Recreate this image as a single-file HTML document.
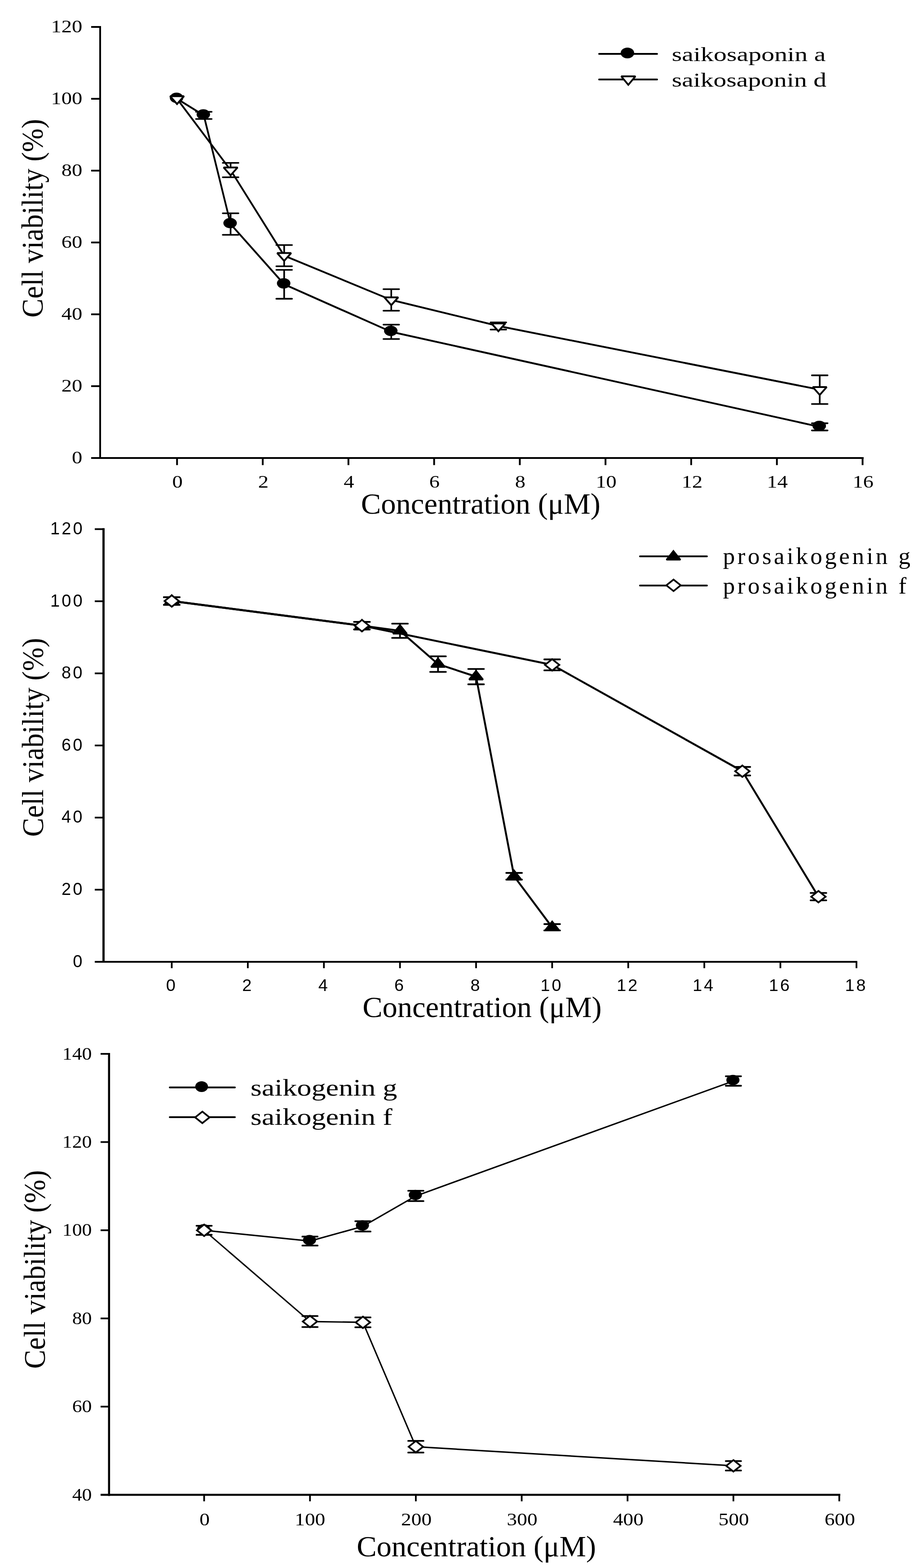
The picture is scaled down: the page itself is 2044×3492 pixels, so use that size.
<!DOCTYPE html>
<html><head><meta charset="utf-8"><title>Cell viability charts</title>
<style>html,body{margin:0;padding:0;background:#fff;}svg{display:block;}</style></head>
<body>
<svg width="2044" height="3492" viewBox="0 0 2044 3492">
<rect width="2044" height="3492" fill="#fff"/>
<g stroke="#000" fill="none">
<line x1="223.00" y1="58.00" x2="223.00" y2="1022.00" stroke-width="4.00" stroke-linecap="butt"/>
<line x1="203.00" y1="1020.00" x2="1923.00" y2="1020.00" stroke-width="4.00" stroke-linecap="butt"/>
<line x1="203.00" y1="1020.00" x2="223.00" y2="1020.00" stroke-width="4.00" stroke-linecap="butt"/>
<line x1="203.00" y1="860.00" x2="223.00" y2="860.00" stroke-width="4.00" stroke-linecap="butt"/>
<line x1="203.00" y1="700.00" x2="223.00" y2="700.00" stroke-width="4.00" stroke-linecap="butt"/>
<line x1="203.00" y1="540.00" x2="223.00" y2="540.00" stroke-width="4.00" stroke-linecap="butt"/>
<line x1="203.00" y1="380.00" x2="223.00" y2="380.00" stroke-width="4.00" stroke-linecap="butt"/>
<line x1="203.00" y1="220.00" x2="223.00" y2="220.00" stroke-width="4.00" stroke-linecap="butt"/>
<line x1="203.00" y1="60.00" x2="223.00" y2="60.00" stroke-width="4.00" stroke-linecap="butt"/>
<line x1="394.20" y1="1020.00" x2="394.20" y2="1035.80" stroke-width="4.00" stroke-linecap="butt"/>
<line x1="585.00" y1="1020.00" x2="585.00" y2="1035.80" stroke-width="4.00" stroke-linecap="butt"/>
<line x1="775.80" y1="1020.00" x2="775.80" y2="1035.80" stroke-width="4.00" stroke-linecap="butt"/>
<line x1="966.60" y1="1020.00" x2="966.60" y2="1035.80" stroke-width="4.00" stroke-linecap="butt"/>
<line x1="1157.40" y1="1020.00" x2="1157.40" y2="1035.80" stroke-width="4.00" stroke-linecap="butt"/>
<line x1="1348.20" y1="1020.00" x2="1348.20" y2="1035.80" stroke-width="4.00" stroke-linecap="butt"/>
<line x1="1539.00" y1="1020.00" x2="1539.00" y2="1035.80" stroke-width="4.00" stroke-linecap="butt"/>
<line x1="1729.80" y1="1020.00" x2="1729.80" y2="1035.80" stroke-width="4.00" stroke-linecap="butt"/>
<line x1="1920.60" y1="1020.00" x2="1920.60" y2="1035.80" stroke-width="4.00" stroke-linecap="butt"/>
<polyline fill="none" stroke-width="4.00" stroke-linejoin="round" points="394.20,220.00 453.82,257.00 513.45,499.00 632.70,633.20 871.20,739.00 1825.20,950.60"/>
<line x1="453.82" y1="249.00" x2="453.82" y2="265.00" stroke-width="3.70" stroke-linecap="butt"/>
<line x1="436.32" y1="249.00" x2="471.32" y2="249.00" stroke-width="3.60" stroke-linecap="round"/>
<line x1="436.32" y1="265.00" x2="471.32" y2="265.00" stroke-width="3.60" stroke-linecap="round"/>
<line x1="513.45" y1="475.00" x2="513.45" y2="523.00" stroke-width="3.70" stroke-linecap="butt"/>
<line x1="495.95" y1="475.00" x2="530.95" y2="475.00" stroke-width="3.60" stroke-linecap="round"/>
<line x1="495.95" y1="523.00" x2="530.95" y2="523.00" stroke-width="3.60" stroke-linecap="round"/>
<line x1="632.70" y1="601.00" x2="632.70" y2="665.40" stroke-width="3.70" stroke-linecap="butt"/>
<line x1="615.20" y1="601.00" x2="650.20" y2="601.00" stroke-width="3.60" stroke-linecap="round"/>
<line x1="615.20" y1="665.40" x2="650.20" y2="665.40" stroke-width="3.60" stroke-linecap="round"/>
<line x1="871.20" y1="723.00" x2="871.20" y2="755.00" stroke-width="3.70" stroke-linecap="butt"/>
<line x1="853.70" y1="723.00" x2="888.70" y2="723.00" stroke-width="3.60" stroke-linecap="round"/>
<line x1="853.70" y1="755.00" x2="888.70" y2="755.00" stroke-width="3.60" stroke-linecap="round"/>
<line x1="1825.20" y1="942.60" x2="1825.20" y2="958.60" stroke-width="3.70" stroke-linecap="butt"/>
<line x1="1807.70" y1="942.60" x2="1842.70" y2="942.60" stroke-width="3.60" stroke-linecap="round"/>
<line x1="1807.70" y1="958.60" x2="1842.70" y2="958.60" stroke-width="3.60" stroke-linecap="round"/>
<ellipse cx="393.10" cy="217.80" rx="15.00" ry="11.50" fill="#000" stroke="none"/>
<ellipse cx="452.72" cy="254.80" rx="15.00" ry="11.50" fill="#000" stroke="none"/>
<ellipse cx="512.35" cy="496.80" rx="15.00" ry="11.50" fill="#000" stroke="none"/>
<ellipse cx="631.60" cy="631.00" rx="15.00" ry="11.50" fill="#000" stroke="none"/>
<ellipse cx="870.10" cy="736.80" rx="15.00" ry="11.50" fill="#000" stroke="none"/>
<ellipse cx="1824.10" cy="948.40" rx="15.00" ry="11.50" fill="#000" stroke="none"/>
<polyline fill="none" stroke-width="4.00" stroke-linejoin="round" points="394.20,220.00 513.45,378.80 632.70,569.40 871.20,668.00 1109.70,726.00 1825.20,867.80"/>
<line x1="513.45" y1="362.80" x2="513.45" y2="394.80" stroke-width="3.70" stroke-linecap="butt"/>
<line x1="495.95" y1="362.80" x2="530.95" y2="362.80" stroke-width="3.60" stroke-linecap="round"/>
<line x1="495.95" y1="394.80" x2="530.95" y2="394.80" stroke-width="3.60" stroke-linecap="round"/>
<line x1="632.70" y1="545.80" x2="632.70" y2="593.00" stroke-width="3.70" stroke-linecap="butt"/>
<line x1="615.20" y1="545.80" x2="650.20" y2="545.80" stroke-width="3.60" stroke-linecap="round"/>
<line x1="615.20" y1="593.00" x2="650.20" y2="593.00" stroke-width="3.60" stroke-linecap="round"/>
<line x1="871.20" y1="644.00" x2="871.20" y2="692.00" stroke-width="3.70" stroke-linecap="butt"/>
<line x1="853.70" y1="644.00" x2="888.70" y2="644.00" stroke-width="3.60" stroke-linecap="round"/>
<line x1="853.70" y1="692.00" x2="888.70" y2="692.00" stroke-width="3.60" stroke-linecap="round"/>
<line x1="1109.70" y1="718.00" x2="1109.70" y2="734.00" stroke-width="3.70" stroke-linecap="butt"/>
<line x1="1092.20" y1="718.00" x2="1127.20" y2="718.00" stroke-width="3.60" stroke-linecap="round"/>
<line x1="1092.20" y1="734.00" x2="1127.20" y2="734.00" stroke-width="3.60" stroke-linecap="round"/>
<line x1="1825.20" y1="835.90" x2="1825.20" y2="899.70" stroke-width="3.70" stroke-linecap="butt"/>
<line x1="1807.70" y1="835.90" x2="1842.70" y2="835.90" stroke-width="3.60" stroke-linecap="round"/>
<line x1="1807.70" y1="899.70" x2="1842.70" y2="899.70" stroke-width="3.60" stroke-linecap="round"/>
<polygon fill="#fff" stroke-width="4.00" stroke-linejoin="miter" stroke-miterlimit="2" points="378.70,214.17 409.70,214.17 394.20,231.67"/>
<polygon fill="#fff" stroke-width="4.00" stroke-linejoin="miter" stroke-miterlimit="2" points="497.95,372.97 528.95,372.97 513.45,390.47"/>
<polygon fill="#fff" stroke-width="4.00" stroke-linejoin="miter" stroke-miterlimit="2" points="617.20,563.57 648.20,563.57 632.70,581.07"/>
<polygon fill="#fff" stroke-width="4.00" stroke-linejoin="miter" stroke-miterlimit="2" points="855.70,662.17 886.70,662.17 871.20,679.67"/>
<polygon fill="#fff" stroke-width="4.00" stroke-linejoin="miter" stroke-miterlimit="2" points="1094.20,720.17 1125.20,720.17 1109.70,737.67"/>
<polygon fill="#fff" stroke-width="4.00" stroke-linejoin="miter" stroke-miterlimit="2" points="1809.70,861.97 1840.70,861.97 1825.20,879.47"/>
<line x1="1334.00" y1="120.00" x2="1463.00" y2="120.00" stroke-width="4.00" stroke-linecap="round"/>
<ellipse cx="1397.00" cy="118.00" rx="15.00" ry="12.00" fill="#000" stroke="none"/>
<line x1="1334.00" y1="177.00" x2="1463.00" y2="177.00" stroke-width="4.00" stroke-linecap="round"/>
<polygon fill="#fff" stroke-width="4.00" stroke-linejoin="miter" stroke-miterlimit="2" points="1383.25,169.97 1414.75,169.97 1399.00,188.97"/>
<line x1="230.50" y1="1176.30" x2="230.50" y2="2144.00" stroke-width="4.90" stroke-linecap="butt"/>
<line x1="211.00" y1="2142.00" x2="1908.80" y2="2142.00" stroke-width="4.00" stroke-linecap="butt"/>
<line x1="211.00" y1="2142.00" x2="230.50" y2="2142.00" stroke-width="3.80" stroke-linecap="butt"/>
<line x1="211.00" y1="1981.40" x2="230.50" y2="1981.40" stroke-width="3.80" stroke-linecap="butt"/>
<line x1="211.00" y1="1820.80" x2="230.50" y2="1820.80" stroke-width="3.80" stroke-linecap="butt"/>
<line x1="211.00" y1="1660.20" x2="230.50" y2="1660.20" stroke-width="3.80" stroke-linecap="butt"/>
<line x1="211.00" y1="1499.60" x2="230.50" y2="1499.60" stroke-width="3.80" stroke-linecap="butt"/>
<line x1="211.00" y1="1339.00" x2="230.50" y2="1339.00" stroke-width="3.80" stroke-linecap="butt"/>
<line x1="211.00" y1="1178.40" x2="230.50" y2="1178.40" stroke-width="3.80" stroke-linecap="butt"/>
<line x1="382.40" y1="2142.00" x2="382.40" y2="2156.20" stroke-width="3.80" stroke-linecap="butt"/>
<line x1="551.80" y1="2142.00" x2="551.80" y2="2156.20" stroke-width="3.80" stroke-linecap="butt"/>
<line x1="721.20" y1="2142.00" x2="721.20" y2="2156.20" stroke-width="3.80" stroke-linecap="butt"/>
<line x1="890.60" y1="2142.00" x2="890.60" y2="2156.20" stroke-width="3.80" stroke-linecap="butt"/>
<line x1="1060.00" y1="2142.00" x2="1060.00" y2="2156.20" stroke-width="3.80" stroke-linecap="butt"/>
<line x1="1229.40" y1="2142.00" x2="1229.40" y2="2156.20" stroke-width="3.80" stroke-linecap="butt"/>
<line x1="1398.80" y1="2142.00" x2="1398.80" y2="2156.20" stroke-width="3.80" stroke-linecap="butt"/>
<line x1="1568.20" y1="2142.00" x2="1568.20" y2="2156.20" stroke-width="3.80" stroke-linecap="butt"/>
<line x1="1737.60" y1="2142.00" x2="1737.60" y2="2156.20" stroke-width="3.80" stroke-linecap="butt"/>
<line x1="1907.00" y1="2142.00" x2="1907.00" y2="2156.20" stroke-width="3.80" stroke-linecap="butt"/>
<polyline fill="none" stroke-width="4.30" stroke-linejoin="round" points="382.40,1338.50 805.90,1393.40 890.60,1404.80 975.30,1479.00 1060.00,1506.90 1144.70,1951.50 1229.40,2065.10"/>
<line x1="382.40" y1="1330.00" x2="382.40" y2="1347.00" stroke-width="3.80" stroke-linecap="butt"/>
<line x1="364.90" y1="1330.00" x2="399.90" y2="1330.00" stroke-width="3.80" stroke-linecap="round"/>
<line x1="364.90" y1="1347.00" x2="399.90" y2="1347.00" stroke-width="3.80" stroke-linecap="round"/>
<line x1="805.90" y1="1385.00" x2="805.90" y2="1401.80" stroke-width="3.80" stroke-linecap="butt"/>
<line x1="788.40" y1="1385.00" x2="823.40" y2="1385.00" stroke-width="3.80" stroke-linecap="round"/>
<line x1="788.40" y1="1401.80" x2="823.40" y2="1401.80" stroke-width="3.80" stroke-linecap="round"/>
<line x1="890.60" y1="1388.90" x2="890.60" y2="1420.70" stroke-width="3.80" stroke-linecap="butt"/>
<line x1="873.10" y1="1388.90" x2="908.10" y2="1388.90" stroke-width="3.80" stroke-linecap="round"/>
<line x1="873.10" y1="1420.70" x2="908.10" y2="1420.70" stroke-width="3.80" stroke-linecap="round"/>
<line x1="975.30" y1="1461.70" x2="975.30" y2="1496.30" stroke-width="3.80" stroke-linecap="butt"/>
<line x1="957.80" y1="1461.70" x2="992.80" y2="1461.70" stroke-width="3.80" stroke-linecap="round"/>
<line x1="957.80" y1="1496.30" x2="992.80" y2="1496.30" stroke-width="3.80" stroke-linecap="round"/>
<line x1="1060.00" y1="1489.80" x2="1060.00" y2="1524.00" stroke-width="3.80" stroke-linecap="butt"/>
<line x1="1042.50" y1="1489.80" x2="1077.50" y2="1489.80" stroke-width="3.80" stroke-linecap="round"/>
<line x1="1042.50" y1="1524.00" x2="1077.50" y2="1524.00" stroke-width="3.80" stroke-linecap="round"/>
<line x1="1144.70" y1="1944.00" x2="1144.70" y2="1959.00" stroke-width="3.80" stroke-linecap="butt"/>
<line x1="1127.20" y1="1944.00" x2="1162.20" y2="1944.00" stroke-width="3.80" stroke-linecap="round"/>
<line x1="1127.20" y1="1959.00" x2="1162.20" y2="1959.00" stroke-width="3.80" stroke-linecap="round"/>
<line x1="1229.40" y1="2058.00" x2="1229.40" y2="2072.20" stroke-width="3.80" stroke-linecap="butt"/>
<line x1="1211.90" y1="2058.00" x2="1246.90" y2="2058.00" stroke-width="3.80" stroke-linecap="round"/>
<line x1="1211.90" y1="2072.20" x2="1246.90" y2="2072.20" stroke-width="3.80" stroke-linecap="round"/>
<polygon fill="#000" stroke-width="3.60" stroke-linejoin="miter" stroke-miterlimit="2" points="382.40,1325.50 397.90,1345.00 366.90,1345.00"/>
<polygon fill="#000" stroke-width="3.60" stroke-linejoin="miter" stroke-miterlimit="2" points="805.90,1380.40 821.40,1399.90 790.40,1399.90"/>
<polygon fill="#000" stroke-width="3.60" stroke-linejoin="miter" stroke-miterlimit="2" points="890.60,1391.80 906.10,1411.30 875.10,1411.30"/>
<polygon fill="#000" stroke-width="3.60" stroke-linejoin="miter" stroke-miterlimit="2" points="975.30,1466.00 990.80,1485.50 959.80,1485.50"/>
<polygon fill="#000" stroke-width="3.60" stroke-linejoin="miter" stroke-miterlimit="2" points="1060.00,1493.90 1075.50,1513.40 1044.50,1513.40"/>
<polygon fill="#000" stroke-width="3.60" stroke-linejoin="miter" stroke-miterlimit="2" points="1144.70,1938.50 1160.20,1958.00 1129.20,1958.00"/>
<polygon fill="#000" stroke-width="3.60" stroke-linejoin="miter" stroke-miterlimit="2" points="1229.40,2052.10 1244.90,2071.60 1213.90,2071.60"/>
<polyline fill="none" stroke-width="4.30" stroke-linejoin="round" points="382.40,1338.50 805.90,1393.40 1229.40,1480.70 1652.90,1717.50 1822.30,1996.90"/>
<line x1="382.40" y1="1330.00" x2="382.40" y2="1347.00" stroke-width="3.80" stroke-linecap="butt"/>
<line x1="364.90" y1="1330.00" x2="399.90" y2="1330.00" stroke-width="3.80" stroke-linecap="round"/>
<line x1="364.90" y1="1347.00" x2="399.90" y2="1347.00" stroke-width="3.80" stroke-linecap="round"/>
<line x1="805.90" y1="1385.00" x2="805.90" y2="1401.80" stroke-width="3.80" stroke-linecap="butt"/>
<line x1="788.40" y1="1385.00" x2="823.40" y2="1385.00" stroke-width="3.80" stroke-linecap="round"/>
<line x1="788.40" y1="1401.80" x2="823.40" y2="1401.80" stroke-width="3.80" stroke-linecap="round"/>
<line x1="1229.40" y1="1468.50" x2="1229.40" y2="1492.90" stroke-width="3.80" stroke-linecap="butt"/>
<line x1="1211.90" y1="1468.50" x2="1246.90" y2="1468.50" stroke-width="3.80" stroke-linecap="round"/>
<line x1="1211.90" y1="1492.90" x2="1246.90" y2="1492.90" stroke-width="3.80" stroke-linecap="round"/>
<line x1="1652.90" y1="1708.00" x2="1652.90" y2="1727.00" stroke-width="3.80" stroke-linecap="butt"/>
<line x1="1635.40" y1="1708.00" x2="1670.40" y2="1708.00" stroke-width="3.80" stroke-linecap="round"/>
<line x1="1635.40" y1="1727.00" x2="1670.40" y2="1727.00" stroke-width="3.80" stroke-linecap="round"/>
<line x1="1822.30" y1="1988.70" x2="1822.30" y2="2005.10" stroke-width="3.80" stroke-linecap="butt"/>
<line x1="1804.80" y1="1988.70" x2="1839.80" y2="1988.70" stroke-width="3.80" stroke-linecap="round"/>
<line x1="1804.80" y1="2005.10" x2="1839.80" y2="2005.10" stroke-width="3.80" stroke-linecap="round"/>
<polygon fill="#fff" stroke-width="3.80" stroke-linejoin="miter" points="382.40,1325.70 398.40,1338.50 382.40,1351.30 366.40,1338.50"/>
<polygon fill="#fff" stroke-width="3.80" stroke-linejoin="miter" points="805.90,1380.60 821.90,1393.40 805.90,1406.20 789.90,1393.40"/>
<polygon fill="#fff" stroke-width="3.80" stroke-linejoin="miter" points="1229.40,1467.90 1245.40,1480.70 1229.40,1493.50 1213.40,1480.70"/>
<polygon fill="#fff" stroke-width="3.80" stroke-linejoin="miter" points="1652.90,1704.70 1668.90,1717.50 1652.90,1730.30 1636.90,1717.50"/>
<polygon fill="#fff" stroke-width="3.80" stroke-linejoin="miter" points="1822.30,1984.10 1838.30,1996.90 1822.30,2009.70 1806.30,1996.90"/>
<line x1="1425.00" y1="1239.00" x2="1574.00" y2="1239.00" stroke-width="4.00" stroke-linecap="round"/>
<polygon fill="#000" stroke-width="3.60" stroke-linejoin="miter" stroke-miterlimit="2" points="1499.50,1227.00 1515.00,1246.50 1484.00,1246.50"/>
<line x1="1425.00" y1="1304.00" x2="1574.00" y2="1304.00" stroke-width="4.00" stroke-linecap="round"/>
<polygon fill="#fff" stroke-width="3.80" stroke-linejoin="miter" points="1499.70,1290.80 1515.70,1303.60 1499.70,1316.40 1483.70,1303.60"/>
<line x1="242.80" y1="2345.10" x2="242.80" y2="3331.40" stroke-width="4.60" stroke-linecap="butt"/>
<line x1="224.00" y1="3329.00" x2="1871.00" y2="3329.00" stroke-width="4.60" stroke-linecap="butt"/>
<line x1="224.00" y1="3329.00" x2="242.80" y2="3329.00" stroke-width="3.80" stroke-linecap="butt"/>
<line x1="224.00" y1="3132.60" x2="242.80" y2="3132.60" stroke-width="3.80" stroke-linecap="butt"/>
<line x1="224.00" y1="2936.20" x2="242.80" y2="2936.20" stroke-width="3.80" stroke-linecap="butt"/>
<line x1="224.00" y1="2739.80" x2="242.80" y2="2739.80" stroke-width="3.80" stroke-linecap="butt"/>
<line x1="224.00" y1="2543.40" x2="242.80" y2="2543.40" stroke-width="3.80" stroke-linecap="butt"/>
<line x1="224.00" y1="2347.00" x2="242.80" y2="2347.00" stroke-width="3.80" stroke-linecap="butt"/>
<line x1="454.50" y1="3329.00" x2="454.50" y2="3343.50" stroke-width="3.80" stroke-linecap="butt"/>
<line x1="690.20" y1="3329.00" x2="690.20" y2="3343.50" stroke-width="3.80" stroke-linecap="butt"/>
<line x1="925.90" y1="3329.00" x2="925.90" y2="3343.50" stroke-width="3.80" stroke-linecap="butt"/>
<line x1="1161.60" y1="3329.00" x2="1161.60" y2="3343.50" stroke-width="3.80" stroke-linecap="butt"/>
<line x1="1397.30" y1="3329.00" x2="1397.30" y2="3343.50" stroke-width="3.80" stroke-linecap="butt"/>
<line x1="1633.00" y1="3329.00" x2="1633.00" y2="3343.50" stroke-width="3.80" stroke-linecap="butt"/>
<line x1="1868.70" y1="3329.00" x2="1868.70" y2="3343.50" stroke-width="3.80" stroke-linecap="butt"/>
<polyline fill="none" stroke-width="3.20" stroke-linejoin="round" points="454.50,2739.90 690.20,2763.90 808.05,2731.20 925.90,2663.40 1633.00,2407.40"/>
<line x1="690.20" y1="2753.90" x2="690.20" y2="2773.90" stroke-width="3.80" stroke-linecap="butt"/>
<line x1="673.20" y1="2753.90" x2="707.20" y2="2753.90" stroke-width="3.80" stroke-linecap="round"/>
<line x1="673.20" y1="2773.90" x2="707.20" y2="2773.90" stroke-width="3.80" stroke-linecap="round"/>
<line x1="808.05" y1="2719.70" x2="808.05" y2="2742.70" stroke-width="3.80" stroke-linecap="butt"/>
<line x1="791.05" y1="2719.70" x2="825.05" y2="2719.70" stroke-width="3.80" stroke-linecap="round"/>
<line x1="791.05" y1="2742.70" x2="825.05" y2="2742.70" stroke-width="3.80" stroke-linecap="round"/>
<line x1="925.90" y1="2651.90" x2="925.90" y2="2674.90" stroke-width="3.80" stroke-linecap="butt"/>
<line x1="908.90" y1="2651.90" x2="942.90" y2="2651.90" stroke-width="3.80" stroke-linecap="round"/>
<line x1="908.90" y1="2674.90" x2="942.90" y2="2674.90" stroke-width="3.80" stroke-linecap="round"/>
<line x1="1633.00" y1="2396.80" x2="1633.00" y2="2418.00" stroke-width="3.80" stroke-linecap="butt"/>
<line x1="1616.00" y1="2396.80" x2="1650.00" y2="2396.80" stroke-width="3.80" stroke-linecap="round"/>
<line x1="1616.00" y1="2418.00" x2="1650.00" y2="2418.00" stroke-width="3.80" stroke-linecap="round"/>
<ellipse cx="453.40" cy="2737.70" rx="14.60" ry="11.50" fill="#000" stroke="none"/>
<ellipse cx="689.10" cy="2761.70" rx="14.60" ry="11.50" fill="#000" stroke="none"/>
<ellipse cx="806.95" cy="2729.00" rx="14.60" ry="11.50" fill="#000" stroke="none"/>
<ellipse cx="924.80" cy="2661.20" rx="14.60" ry="11.50" fill="#000" stroke="none"/>
<ellipse cx="1631.90" cy="2405.20" rx="14.60" ry="11.50" fill="#000" stroke="none"/>
<polyline fill="none" stroke-width="3.20" stroke-linejoin="round" points="454.50,2739.90 690.20,2943.10 808.05,2944.90 925.90,3221.90 1633.00,3264.40"/>
<line x1="454.50" y1="2729.80" x2="454.50" y2="2750.00" stroke-width="3.80" stroke-linecap="butt"/>
<line x1="437.50" y1="2729.80" x2="471.50" y2="2729.80" stroke-width="3.80" stroke-linecap="round"/>
<line x1="437.50" y1="2750.00" x2="471.50" y2="2750.00" stroke-width="3.80" stroke-linecap="round"/>
<line x1="690.20" y1="2930.90" x2="690.20" y2="2955.30" stroke-width="3.80" stroke-linecap="butt"/>
<line x1="673.20" y1="2930.90" x2="707.20" y2="2930.90" stroke-width="3.80" stroke-linecap="round"/>
<line x1="673.20" y1="2955.30" x2="707.20" y2="2955.30" stroke-width="3.80" stroke-linecap="round"/>
<line x1="808.05" y1="2933.90" x2="808.05" y2="2955.90" stroke-width="3.80" stroke-linecap="butt"/>
<line x1="791.05" y1="2933.90" x2="825.05" y2="2933.90" stroke-width="3.80" stroke-linecap="round"/>
<line x1="791.05" y1="2955.90" x2="825.05" y2="2955.90" stroke-width="3.80" stroke-linecap="round"/>
<line x1="925.90" y1="3208.90" x2="925.90" y2="3234.90" stroke-width="3.80" stroke-linecap="butt"/>
<line x1="908.90" y1="3208.90" x2="942.90" y2="3208.90" stroke-width="3.80" stroke-linecap="round"/>
<line x1="908.90" y1="3234.90" x2="942.90" y2="3234.90" stroke-width="3.80" stroke-linecap="round"/>
<line x1="1633.00" y1="3253.90" x2="1633.00" y2="3274.90" stroke-width="3.80" stroke-linecap="butt"/>
<line x1="1616.00" y1="3253.90" x2="1650.00" y2="3253.90" stroke-width="3.80" stroke-linecap="round"/>
<line x1="1616.00" y1="3274.90" x2="1650.00" y2="3274.90" stroke-width="3.80" stroke-linecap="round"/>
<polygon fill="#fff" stroke-width="3.80" stroke-linejoin="miter" points="454.50,2727.10 470.50,2739.90 454.50,2752.70 438.50,2739.90"/>
<polygon fill="#fff" stroke-width="3.80" stroke-linejoin="miter" points="690.20,2930.30 706.20,2943.10 690.20,2955.90 674.20,2943.10"/>
<polygon fill="#fff" stroke-width="3.80" stroke-linejoin="miter" points="808.05,2932.10 824.05,2944.90 808.05,2957.70 792.05,2944.90"/>
<polygon fill="#fff" stroke-width="3.80" stroke-linejoin="miter" points="925.90,3209.10 941.90,3221.90 925.90,3234.70 909.90,3221.90"/>
<polygon fill="#fff" stroke-width="3.80" stroke-linejoin="miter" points="1633.00,3251.60 1649.00,3264.40 1633.00,3277.20 1617.00,3264.40"/>
<line x1="378.00" y1="2421.80" x2="523.00" y2="2421.80" stroke-width="4.00" stroke-linecap="round"/>
<ellipse cx="448.90" cy="2420.00" rx="14.20" ry="12.00" fill="#000" stroke="none"/>
<line x1="378.00" y1="2488.00" x2="523.00" y2="2488.00" stroke-width="4.00" stroke-linecap="round"/>
<polygon fill="#fff" stroke-width="3.80" stroke-linejoin="miter" points="450.50,2475.60 466.50,2488.40 450.50,2501.20 434.50,2488.40"/>
</g>
<g fill="#000">
<text transform="translate(159.98 1032.00) scale(1.1500 1)" font-family="'Liberation Serif', serif" font-size="40.50">0</text>
<text transform="translate(136.69 872.00) scale(1.1500 1)" font-family="'Liberation Serif', serif" font-size="40.50">20</text>
<text transform="translate(136.69 712.00) scale(1.1500 1)" font-family="'Liberation Serif', serif" font-size="40.50">40</text>
<text transform="translate(136.69 552.00) scale(1.1500 1)" font-family="'Liberation Serif', serif" font-size="40.50">60</text>
<text transform="translate(136.69 392.00) scale(1.1500 1)" font-family="'Liberation Serif', serif" font-size="40.50">80</text>
<text transform="translate(113.40 232.00) scale(1.1500 1)" font-family="'Liberation Serif', serif" font-size="40.50">100</text>
<text transform="translate(113.40 72.00) scale(1.1500 1)" font-family="'Liberation Serif', serif" font-size="40.50">120</text>
<text transform="translate(383.58 1086.30) scale(1.1450 1)" font-family="'Liberation Serif', serif" font-size="40.60">0</text>
<text transform="translate(574.84 1086.30) scale(1.1450 1)" font-family="'Liberation Serif', serif" font-size="40.60">2</text>
<text transform="translate(765.18 1086.30) scale(1.1450 1)" font-family="'Liberation Serif', serif" font-size="40.60">4</text>
<text transform="translate(955.75 1086.30) scale(1.1450 1)" font-family="'Liberation Serif', serif" font-size="40.60">6</text>
<text transform="translate(1146.78 1086.30) scale(1.1450 1)" font-family="'Liberation Serif', serif" font-size="40.60">8</text>
<text transform="translate(1326.39 1086.30) scale(1.1450 1)" font-family="'Liberation Serif', serif" font-size="40.60">10</text>
<text transform="translate(1517.66 1086.30) scale(1.1450 1)" font-family="'Liberation Serif', serif" font-size="40.60">12</text>
<text transform="translate(1707.53 1086.30) scale(1.1450 1)" font-family="'Liberation Serif', serif" font-size="40.60">14</text>
<text transform="translate(1898.56 1086.30) scale(1.1450 1)" font-family="'Liberation Serif', serif" font-size="40.60">16</text>
<text transform="translate(803.84 1143.70) scale(1.0278 1)" font-family="'Liberation Serif', serif" font-size="64.80">Concentration (μM)</text>
<text transform="translate(94.90 707.23) rotate(-90) scale(0.9463 1)" font-family="'Liberation Serif', serif" font-size="66.80">Cell viability (%)</text>
<text transform="translate(1495.68 135.60) scale(1.2818 1)" font-family="'Liberation Serif', serif" font-size="45.20">saikosaponin a</text>
<text transform="translate(1495.69 193.00) scale(1.2759 1)" font-family="'Liberation Serif', serif" font-size="45.20">saikosaponin d</text>
<text transform="translate(162.14 2153.60) scale(1.0000 1)" font-family="'Liberation Sans', sans-serif" font-size="38.00" letter-spacing="4.100">0</text>
<text transform="translate(137.06 1993.00) scale(1.0000 1)" font-family="'Liberation Sans', sans-serif" font-size="38.00" letter-spacing="4.100">20</text>
<text transform="translate(137.06 1832.40) scale(1.0000 1)" font-family="'Liberation Sans', sans-serif" font-size="38.00" letter-spacing="4.100">40</text>
<text transform="translate(137.06 1671.80) scale(1.0000 1)" font-family="'Liberation Sans', sans-serif" font-size="38.00" letter-spacing="4.100">60</text>
<text transform="translate(137.06 1511.20) scale(1.0000 1)" font-family="'Liberation Sans', sans-serif" font-size="38.00" letter-spacing="4.100">80</text>
<text transform="translate(111.98 1350.60) scale(1.0000 1)" font-family="'Liberation Sans', sans-serif" font-size="38.00" letter-spacing="4.100">100</text>
<text transform="translate(111.98 1190.00) scale(1.0000 1)" font-family="'Liberation Sans', sans-serif" font-size="38.00" letter-spacing="4.100">120</text>
<text transform="translate(369.82 2207.20) scale(1.0000 1)" font-family="'Liberation Sans', sans-serif" font-size="37.80" letter-spacing="4.000">0</text>
<text transform="translate(539.22 2207.20) scale(1.0000 1)" font-family="'Liberation Sans', sans-serif" font-size="37.80" letter-spacing="4.000">2</text>
<text transform="translate(708.81 2207.20) scale(1.0000 1)" font-family="'Liberation Sans', sans-serif" font-size="37.80" letter-spacing="4.000">4</text>
<text transform="translate(878.02 2207.20) scale(1.0000 1)" font-family="'Liberation Sans', sans-serif" font-size="37.80" letter-spacing="4.000">6</text>
<text transform="translate(1047.61 2207.20) scale(1.0000 1)" font-family="'Liberation Sans', sans-serif" font-size="37.80" letter-spacing="4.000">8</text>
<text transform="translate(1203.59 2207.20) scale(1.0000 1)" font-family="'Liberation Sans', sans-serif" font-size="37.80" letter-spacing="4.000">10</text>
<text transform="translate(1373.18 2207.20) scale(1.0000 1)" font-family="'Liberation Sans', sans-serif" font-size="37.80" letter-spacing="4.000">12</text>
<text transform="translate(1542.20 2207.20) scale(1.0000 1)" font-family="'Liberation Sans', sans-serif" font-size="37.80" letter-spacing="4.000">14</text>
<text transform="translate(1711.97 2207.20) scale(1.0000 1)" font-family="'Liberation Sans', sans-serif" font-size="37.80" letter-spacing="4.000">16</text>
<text transform="translate(1881.38 2207.20) scale(1.0000 1)" font-family="'Liberation Sans', sans-serif" font-size="37.80" letter-spacing="4.000">18</text>
<text transform="translate(807.14 2264.70) scale(1.0269 1)" font-family="'Liberation Serif', serif" font-size="64.80">Concentration (μM)</text>
<text transform="translate(95.90 1863.53) rotate(-90) scale(0.9472 1)" font-family="'Liberation Serif', serif" font-size="66.80">Cell viability (%)</text>
<text transform="translate(1609.74 1256.10) scale(1.0000 1)" font-family="'Liberation Serif', serif" font-size="53.20" letter-spacing="5.430">prosaikogenin g</text>
<text transform="translate(1609.74 1321.70) scale(1.0000 1)" font-family="'Liberation Serif', serif" font-size="53.20" letter-spacing="5.430">prosaikogenin f</text>
<text transform="translate(160.69 3341.50) scale(1.0830 1)" font-family="'Liberation Serif', serif" font-size="40.50">40</text>
<text transform="translate(160.69 3145.10) scale(1.0830 1)" font-family="'Liberation Serif', serif" font-size="40.50">60</text>
<text transform="translate(160.69 2948.70) scale(1.0830 1)" font-family="'Liberation Serif', serif" font-size="40.50">80</text>
<text transform="translate(138.76 2752.30) scale(1.0830 1)" font-family="'Liberation Serif', serif" font-size="40.50">100</text>
<text transform="translate(138.76 2555.90) scale(1.0830 1)" font-family="'Liberation Serif', serif" font-size="40.50">120</text>
<text transform="translate(138.76 2359.50) scale(1.0830 1)" font-family="'Liberation Serif', serif" font-size="40.50">140</text>
<text transform="translate(444.37 3397.00) scale(1.1160 1)" font-family="'Liberation Serif', serif" font-size="40.60">0</text>
<text transform="translate(656.29 3397.00) scale(1.1160 1)" font-family="'Liberation Serif', serif" font-size="40.60">100</text>
<text transform="translate(893.12 3397.00) scale(1.1160 1)" font-family="'Liberation Serif', serif" font-size="40.60">200</text>
<text transform="translate(1128.59 3397.00) scale(1.1160 1)" font-family="'Liberation Serif', serif" font-size="40.60">300</text>
<text transform="translate(1364.97 3397.00) scale(1.1160 1)" font-family="'Liberation Serif', serif" font-size="40.60">400</text>
<text transform="translate(1599.76 3397.00) scale(1.1160 1)" font-family="'Liberation Serif', serif" font-size="40.60">500</text>
<text transform="translate(1835.92 3397.00) scale(1.1160 1)" font-family="'Liberation Serif', serif" font-size="40.60">600</text>
<text transform="translate(794.14 3465.90) scale(1.0274 1)" font-family="'Liberation Serif', serif" font-size="64.80">Concentration (μM)</text>
<text transform="translate(99.70 3048.33) rotate(-90) scale(0.9465 1)" font-family="'Liberation Serif', serif" font-size="66.80">Cell viability (%)</text>
<text transform="translate(557.83 2439.60) scale(1.2015 1)" font-family="'Liberation Serif', serif" font-size="53.50">saikogenin g</text>
<text transform="translate(557.83 2505.30) scale(1.2008 1)" font-family="'Liberation Serif', serif" font-size="53.50">saikogenin f</text>
</g>
</svg>
</body></html>
